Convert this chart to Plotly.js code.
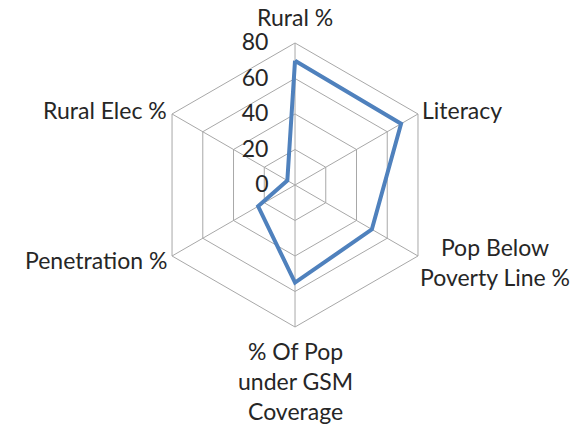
<!DOCTYPE html>
<html>
<head>
<meta charset="utf-8">
<script src="https://cdn.plot.ly/plotly-3.0.1.min.js"></script>
<style>html,body{margin:0;padding:0;background:#fff;}#chart{width:582px;height:427px;}</style>
</head>
<body>
<div id="chart"></div>
<script>
var categories = ["Rural %", "Literacy", "Pop Below Poverty Line %", "% Of Pop under GSM Coverage", "Penetration %", "Rural Elec %"];
var categoryLabels = ["Rural %", "Literacy", "Pop Below<br>Poverty Line %", "% Of Pop<br>under GSM<br>Coverage", "Penetration %", "Rural Elec %"];
var values = [70, 69, 50, 55, 24, 5];
var tickVals = [0, 20, 40, 60, 80];

var W = 582, H = 427;
var trace = {
  type: "scatterpolar",
  mode: "lines",
  r: values.concat([values[0]]),
  theta: categories.concat([categories[0]]),
  line: {color: "#4F81BD", width: 4},
  hoverinfo: "skip"
};

// label placement (pixels) for each category label
var labelPos = [
  {x: 295, y: 17, xanchor: "center", yanchor: "middle", align: "center"},
  {x: 421, y: 110, xanchor: "left", yanchor: "middle", align: "left"},
  {x: 495, y: 262, xanchor: "center", yanchor: "middle", align: "center"},
  {x: 295, y: 336, xanchor: "center", yanchor: "top", align: "center"},
  {x: 168, y: 260, xanchor: "right", yanchor: "middle", align: "right"},
  {x: 168, y: 110, xanchor: "right", yanchor: "middle", align: "right"}
];
var annotations = categoryLabels.map(function (t, i) {
  var p = labelPos[i];
  return {
    text: t, xref: "paper", yref: "paper",
    x: p.x / W, y: 1 - p.y / H,
    xanchor: p.xanchor, yanchor: p.yanchor, align: p.align,
    showarrow: false, borderpad: 0,
    font: {size: 23, color: "#262626"}
  };
});

var layout = {
  width: W, height: H,
  margin: {l: 0, r: 0, t: 0, b: 0},
  paper_bgcolor: "#fff",
  showlegend: false,
  font: {family: "Lato, 'Open Sans', sans-serif", size: 22, color: "#262626"},
  annotations: annotations,
  polar: {
    domain: {x: [0.2629, 0.7509], y: [0.2342, 0.8993]},
    gridshape: "linear",
    bgcolor: "rgba(0,0,0,0)",
    radialaxis: {
      range: [0, 80],
      tickvals: tickVals,
      angle: 90,
      side: "counterclockwise",
      showline: false,
      gridcolor: "#A8A8A8",
      gridwidth: 1,
      ticks: "outside",
      ticklen: 18,
      tickcolor: "rgba(0,0,0,0)",
      tickfont: {size: 23, color: "#262626"},
      tickangle: 90
    },
    angularaxis: {
      direction: "clockwise",
      rotation: 90,
      showline: true,
      linecolor: "#A8A8A8",
      linewidth: 1,
      gridcolor: "#A8A8A8",
      gridwidth: 1,
      ticks: "",
      showticklabels: false
    }
  }
};

Plotly.newPlot("chart", [trace], layout, {staticPlot: true, displayModeBar: false});
</script>
</body>
</html>
